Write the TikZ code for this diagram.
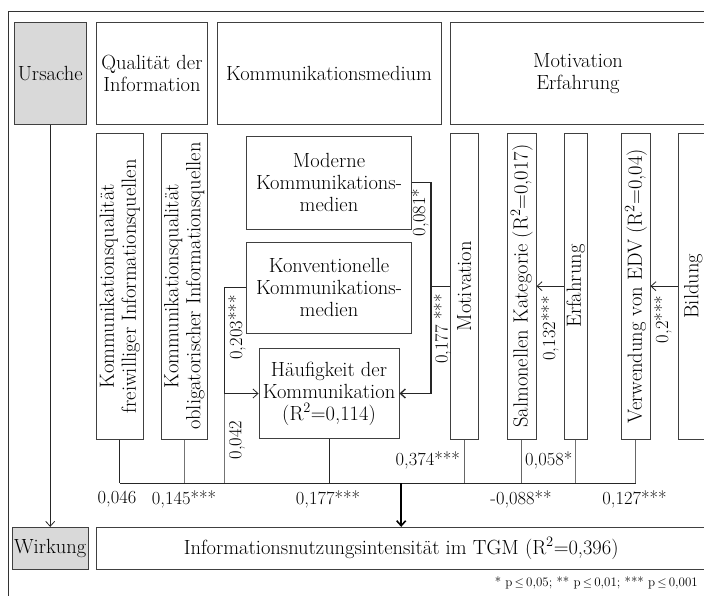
\documentclass[tikz,border=0pt]{standalone}
\usepackage{fontspec}
\usepackage{amsmath}
\usetikzlibrary{arrows.meta}

\begin{document}
\begin{tikzpicture}[x=1pt,y=-1pt,
	>={Straight Barb[length=5pt,width=9pt]},
	bstyle/.style={rectangle, draw=black!75, line width=0.9pt, align=center,
	inner sep=2pt, font=\fontsize{20.5}{22}\selectfont},
	gstyle/.style={bstyle, fill=black!15},
	vstyle/.style={bstyle, rotate=90, minimum width=305.7pt},
	lstyle/.style={inner sep=1pt, font=\fontsize{18.5}{22}\selectfont},
	cstyle/.style={draw=black!85, line width=0.8pt},
	]
	\useasboundingbox (0,0) rectangle (704,595);
	\clip (0,0) rectangle (704,595);
	\draw[black!80, line width=0.8pt] (8,600) -- (8,11) -- (712,11);
	
	% top row
	\node[gstyle, minimum width=71.7pt, minimum height=101.7pt] (urs) at (50.2,73.2) {Ursache};
	\node[bstyle, minimum width=111.4pt, minimum height=101.7pt] (qual) at (152,73.2) {Qualität der\\Information};
	\node[bstyle, minimum width=224pt, minimum height=101.7pt] (kmed) at (329,73.2) {Kommunikationsmedium};
	\node[bstyle, minimum width=256pt, minimum height=101.7pt] (moterf) at (578,73.2) {Motivation\\Erfahrung};
	
	% causes
	\node[vstyle, minimum height=47pt] (kq1) at (119.8,286.2) {Kommunikationsqualität\\freiwilliger Informationsquellen};
	\node[vstyle, minimum height=46.7pt] (kq2) at (184.3,286.2) {Kommunikationsqualität\\obligatorischer Informationsquellen};
	\node[bstyle, minimum width=164.6pt, minimum height=92.3pt] (mod) at (329,182.8) {Moderne\\Kommunikations-\\medien};
	\node[bstyle, minimum width=164.6pt, minimum height=91.7pt] (konv) at (329,287.8) {Konventionelle\\Kommunikations-\\medien};
	\node[bstyle, minimum width=140pt, minimum height=90.4pt] (haeu) at (329,393.5) {Häufigkeit der\\Kommunikation\\(R\textsuperscript{2}=0,114)};
	\node[vstyle, minimum height=28.7pt] (motiv) at (464.3,286.2) {Motivation};
	\node[vstyle, minimum height=28.7pt] (salm) at (521.7,286.2) {Salmonellen Kategorie (R\textsuperscript{2}=0,017)};
	\node[vstyle, minimum height=23pt] (erf) at (575.8,286.2) {Erfahrung};
	\node[vstyle, minimum height=28.3pt] (verw) at (635.8,286.2) {Verwendung von EDV (R\textsuperscript{2}=0,04)};
	\node[vstyle, minimum height=30pt] (bild) at (693.3,286.2) {Bildung};
	
	% effect
	\node[gstyle, minimum width=71.7pt, minimum height=41.7pt] (wirk) at (50.2,548.2) {Wirkung};
	\node[bstyle, minimum width=609.7pt, minimum height=41.7pt] (info) at (401.2,548.2) {Informationsnutzungsintensität im TGM (R\textsuperscript{2}=0,396)};
	
	\coordinate (jl) at (224,393.5);
	\coordinate (jr) at (431,393.5);
	\coordinate (bus) at (401.2,483.3);
	
	\draw[cstyle, ->] (urs.south) -- (wirk.north);
	\draw[cstyle, line width=1.3pt, ->] (mod.east) -| (jr) -- (haeu.east);
	\draw[cstyle, line width=1.3pt] (motiv.north) -- (motiv.north -| jr);
	\draw[cstyle, ->] (konv.west) -| (jl) -- (haeu.west);
	\draw[cstyle, black!55] (jl) -- (jl |- bus);
	\draw[cstyle, ->] (erf.north) -- (salm.south);
	\draw[cstyle, ->] (bild.north) -- (verw.south);
	
	\draw[cstyle] (kq1.west) -- (kq1.west |- bus);
	\draw[cstyle, black!55] (kq2.west) -- (kq2.west |- bus);
	\draw[cstyle] (haeu.south) -- (haeu.south |- bus);
	\draw[cstyle, black!60] (motiv.west) -- (motiv.west |- bus);
	\draw[cstyle, black!60] (salm.west) -- (salm.west |- bus);
	\draw[cstyle, black!55] (erf.west) -- (erf.west |- bus);
	\draw[cstyle, black!60] (verw.west) -- (verw.west |- bus);
	\draw[cstyle, line width=1.2pt] (kq1.west |- bus) -- (verw.west |- bus);
	\draw[cstyle, black, line width=1.6pt, ->] (bus) -- (info.north);
	
	% coefficients
	\node[lstyle, rotate=90] (l081) at (420,212.5) {0,081*};
	\node[lstyle, rotate=90] (l177) at (442.5,329) {0,177 ***};
	\node[lstyle, rotate=90] (l203) at (237,327.5) {0,203***};
	\node[lstyle, rotate=90] (l042) at (237,440) {0,042};
	\node[lstyle, rotate=90] (l132) at (550,328.5) {0,132***};
	\node[lstyle, rotate=90] (l02) at (663,319.5) {0,2***};
	\node[lstyle, anchor=east] (l374) at (461,460) {0,374***};
	\node[lstyle, anchor=west] (l058) at (524,460) {0,058*};
	\node[lstyle] (l046) at (117,499) {0,046};
	\node[lstyle] (l145) at (184,499) {0,145***};
	\node[lstyle] (l177b) at (328,499) {0,177***};
	\node[lstyle] (l088) at (521,499) {-0,088**};
	\node[lstyle] (l127) at (634.5,499) {0,127***};
	\node[lstyle, anchor=east, font=\fontsize{13}{15}\selectfont] (foot) at (699,582.5)
	{* p\,$\le$\,0,05; ** p\,$\le$\,0,01; *** p\,$\le$\,0,001};
\end{tikzpicture}
\end{document}
